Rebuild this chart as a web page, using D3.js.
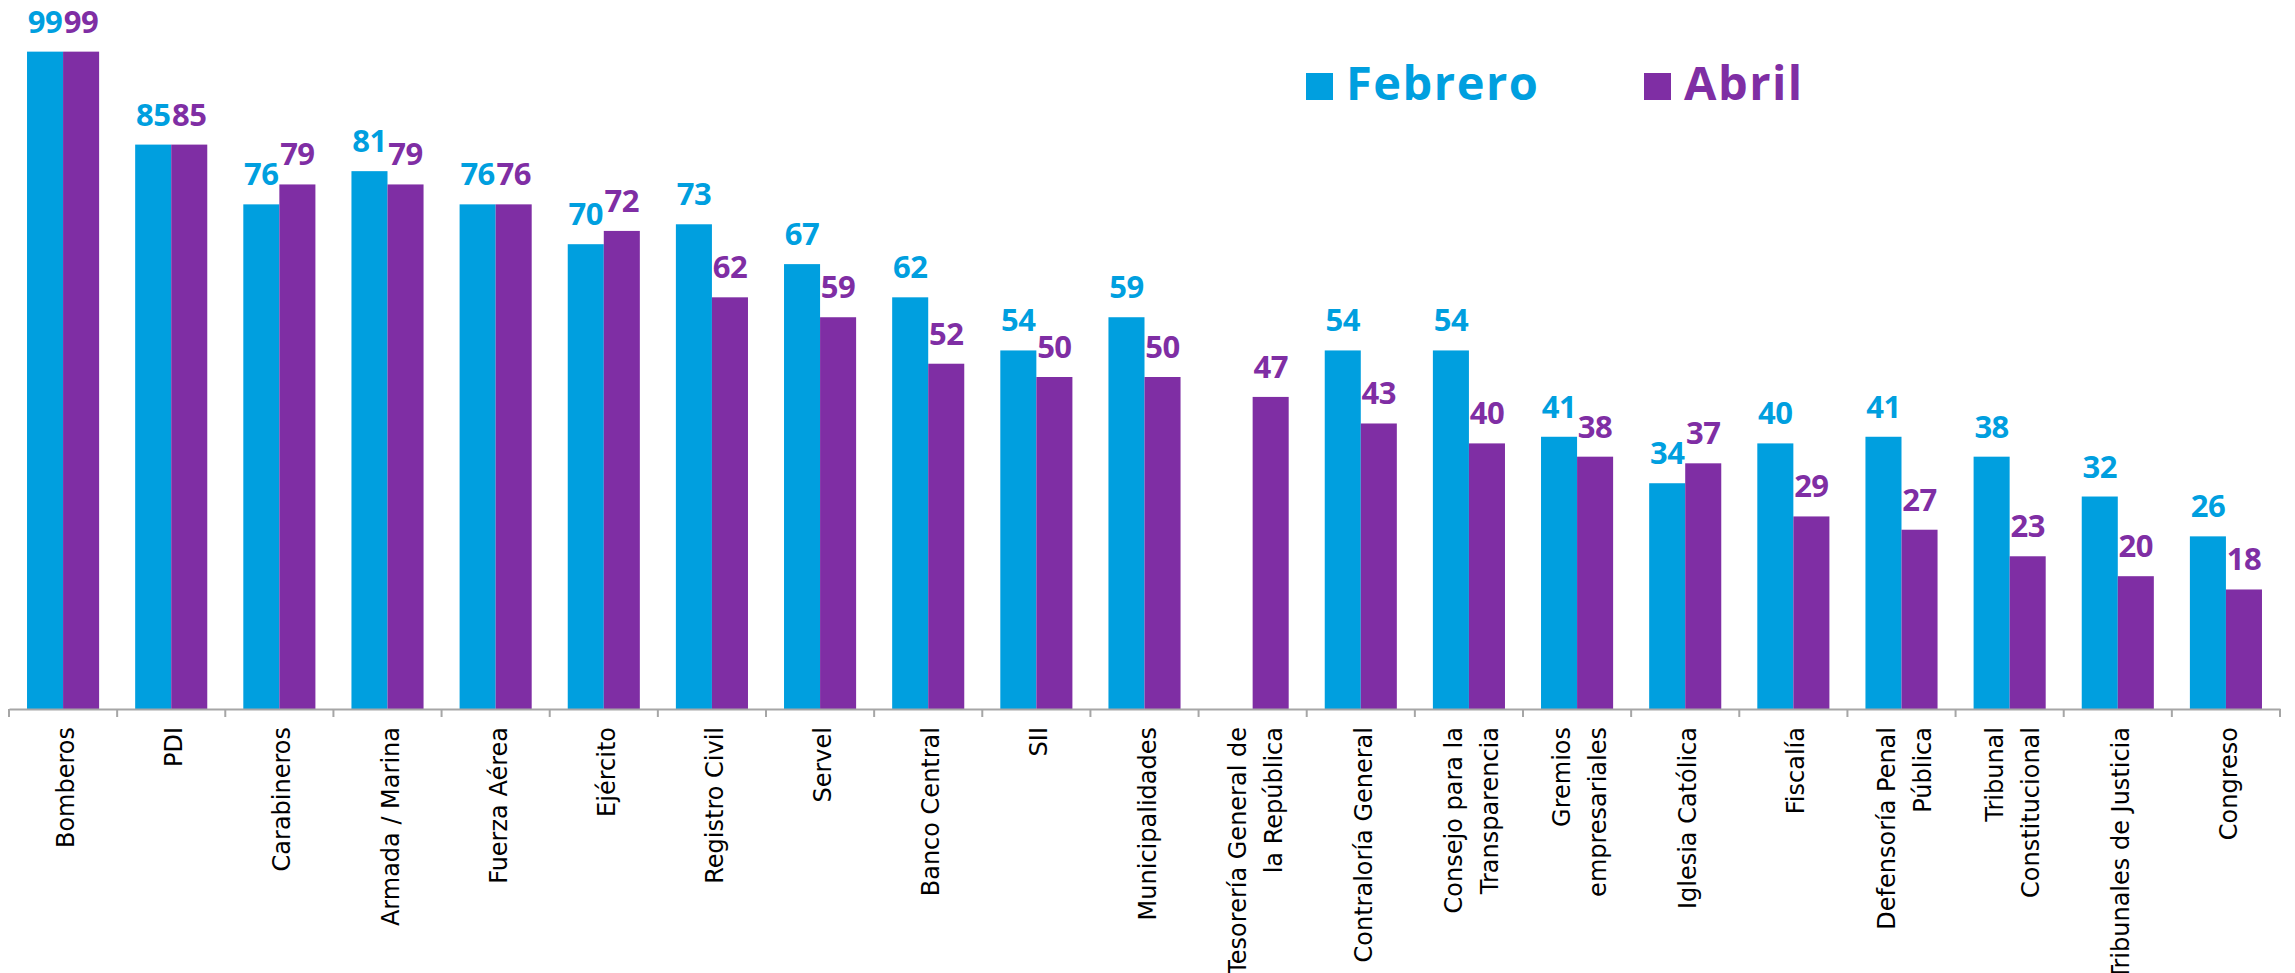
<!DOCTYPE html>
<html>
<head>
<meta charset="utf-8">
<script src="https://cdn.jsdelivr.net/npm/d3@7"></script>
<style>
  body { margin: 0; background: #fff; }
  svg { display: block; }
</style>
</head>
<body>
<svg id="chart" width="2295" height="973"></svg>
<script>
const categories = [
  ["Bomberos"], ["PDI"], ["Carabineros"], ["Armada / Marina"], ["Fuerza Aérea"],
  ["Ejército"], ["Registro Civil"], ["Servel"], ["Banco Central"], ["SII"],
  ["Municipalidades"], ["Tesorería General de", "la República"], ["Contraloría General"],
  ["Consejo para la", "Transparencia"], ["Gremios", "empresariales"], ["Iglesia Católica"],
  ["Fiscalía"], ["Defensoría Penal", "Pública"], ["Tribunal", "Constitucional"],
  ["Tribunales de Justicia"], ["Congreso"]
];
const febrero = [99, 85, 76, 81, 76, 70, 73, 67, 62, 54, 59, null, 54, 54, 41, 34, 40, 41, 38, 32, 26];
const abril = [99, 85, 79, 79, 76, 72, 62, 59, 52, 50, 50, 47, 43, 40, 38, 37, 29, 27, 23, 20, 18];
const seriesNames = ["Febrero", "Abril"];
const colors = { Febrero: "#009fdf", Abril: "#7f2ea4" };

const width = 2295, height = 973;
const margin = { left: 9, right: 15, top: 45, bottom: 264 };
const svg = d3.select("#chart");

const keys = categories.map((c) => c.join(" "));
const rows = keys.map((k, i) => ({ key: k, lines: categories[i], Febrero: febrero[i], Abril: abril[i] }));

const x0 = d3.scaleBand().domain(keys).range([margin.left, width - margin.right]).padding(0);
const bw = x0.bandwidth();
const x1 = d3.scaleBand().domain(seriesNames).range([bw / 6, bw * 5 / 6]).padding(0);
const y = d3.scaleLinear().domain([0, 100]).range([height - margin.bottom, margin.top]);

const groups = svg.append("g").selectAll("g")
  .data(rows)
  .join("g")
  .attr("transform", (d) => `translate(${x0(d.key)},0)`);

const items = (d) => seriesNames.filter((s) => d[s] != null).map((s) => ({ s, v: d[s] }));

groups.selectAll("rect")
  .data(items)
  .join("rect")
  .attr("x", (d) => x1(d.s))
  .attr("width", x1.bandwidth())
  .attr("y", (d) => y(d.v))
  .attr("height", (d) => y(0) - y(d.v))
  .attr("fill", (d) => colors[d.s]);

groups.selectAll("text.val")
  .data(items)
  .join("text")
  .attr("class", "val")
  .attr("x", (d) => x1(d.s) + x1.bandwidth() / 2)
  .attr("y", (d) => y(d.v) - 19)
  .attr("text-anchor", "middle")
  .attr("font-family", "'Open Sans', sans-serif")
  .attr("font-weight", 700)
  .attr("font-size", 31)
  .attr("letter-spacing", -0.5)
  .attr("fill", (d) => colors[d.s])
  .text((d) => d.v);

// axis line
const xAxis = svg.append("g")
  .attr("transform", `translate(0,${y(0)})`)
  .call(d3.axisBottom(x0).tickSize(0).tickFormat("").tickSizeOuter(0));
xAxis.select(".domain").attr("stroke", "#a6a6a6").attr("stroke-width", 2);

// boundary ticks
const bounds = keys.map((k) => x0(k)).concat([x0(keys[keys.length - 1]) + bw]);
svg.append("g").selectAll("line")
  .data(bounds)
  .join("line")
  .attr("x1", (d) => d).attr("x2", (d) => d)
  .attr("y1", y(0)).attr("y2", y(0) + 8)
  .attr("stroke", "#a6a6a6").attr("stroke-width", 2);

// category labels, rotated
const lineGap = 36;
const lab = svg.append("g").selectAll("text")
  .data(rows)
  .join("text")
  .attr("font-family", "'DejaVu Sans', sans-serif")
  .attr("font-size", 24)
  .attr("fill", "#000")
  .attr("text-anchor", "end")
  .attr("transform", (d) => {
    const cx = x0(d.key) + bw / 2 + 11 - (d.lines.length - 1) * lineGap / 2;
    return `translate(${cx},${y(0) + 18}) rotate(-90)`;
  });
lab.selectAll("tspan")
  .data((d) => d.lines)
  .join("tspan")
  .attr("x", 0)
  .attr("y", (d, i) => i * lineGap)
  .text((d) => d);

// legend
const legend = svg.append("g").selectAll("g")
  .data(seriesNames)
  .join("g")
  .attr("transform", (d, i) => `translate(${[1306, 1644][i]},73)`);
legend.append("rect")
  .attr("width", 27).attr("height", 27)
  .attr("fill", (d) => colors[d]);
legend.append("text")
  .attr("x", 40).attr("y", 27)
  .attr("font-family", "'Open Sans', sans-serif")
  .attr("font-weight", 700)
  .attr("font-size", 47)
  .attr("letter-spacing", 1.5)
  .attr("fill", (d) => colors[d])
  .text((d) => d);
</script>
</body>
</html>
